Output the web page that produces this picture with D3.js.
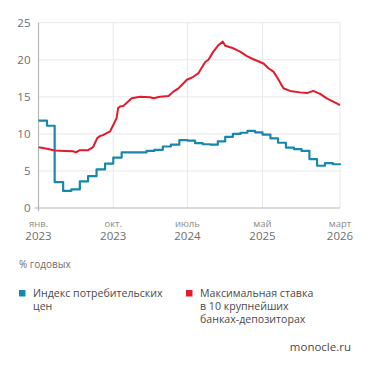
<!DOCTYPE html>
<html>
<head>
<meta charset="utf-8">
<script src="https://cdn.jsdelivr.net/npm/d3@7"></script>
<style>
  body { margin: 0; background: #fff; }
  svg { display: block; font-family: "Open Sans", sans-serif; }
</style>
</head>
<body>
<div id="chart"></div>
<script>
const tickDates = ["2023-01-01", "2023-10-01", "2024-07-01", "2025-05-01", "2026-03-01"];
const tickMonths = ["янв.", "окт.", "июль", "май", "март"];
const tickYears = ["2023", "2023", "2024", "2025", "2026"];
const yTicks = [0, 5, 10, 15, 20, 25];

// CPI, monthly, % y/y
const cpiDates = [
  "2023-01-01", "2023-02-01", "2023-03-01", "2023-04-01", "2023-05-01", "2023-06-01",
  "2023-07-01", "2023-08-01", "2023-09-01", "2023-10-01", "2023-11-01", "2023-12-01",
  "2024-01-01", "2024-02-01", "2024-03-01", "2024-04-01", "2024-05-01", "2024-06-01",
  "2024-07-01", "2024-08-01", "2024-09-01", "2024-10-01", "2024-11-01", "2024-12-01",
  "2025-01-01", "2025-02-01", "2025-03-01", "2025-04-01", "2025-05-01", "2025-06-01",
  "2025-07-01", "2025-08-01", "2025-09-01", "2025-10-01", "2025-11-01", "2025-12-01",
  "2026-01-01", "2026-02-01", "2026-03-01"
];
const cpiValues = [
  11.8, 11.1, 3.5, 2.3, 2.5, 3.6,
  4.3, 5.2, 6.0, 6.8, 7.5, 7.5,
  7.5, 7.7, 7.85, 8.3, 8.55, 9.15,
  9.1, 8.75, 8.6, 8.55, 9.0, 9.6,
  10.0, 10.15, 10.4, 10.2, 9.9, 9.4,
  8.8, 8.15, 7.95, 7.7, 6.6, 5.7,
  6.05, 5.9, 5.8
];

// max deposit rate in top-10 banks
const rateDates = [
  "2023-01-02", "2023-02-01", "2023-03-02", "2023-04-08", "2023-05-07", "2023-05-18",
  "2023-06-01", "2023-07-01", "2023-07-19", "2023-08-03", "2023-08-13", "2023-08-26",
  "2023-09-12", "2023-09-19", "2023-10-01", "2023-10-13", "2023-10-19", "2023-10-26",
  "2023-11-07", "2023-11-20", "2023-12-08", "2024-01-08", "2024-02-14", "2024-02-26",
  "2024-03-22", "2024-04-22", "2024-05-10", "2024-05-29", "2024-06-10", "2024-06-29",
  "2024-07-25", "2024-08-15", "2024-09-11", "2024-09-24", "2024-10-14", "2024-11-04",
  "2024-11-21", "2024-12-01", "2025-01-03", "2025-01-30", "2025-02-27", "2025-03-25",
  "2025-05-05", "2025-05-24", "2025-06-13", "2025-07-03", "2025-07-22", "2025-08-17",
  "2025-09-25", "2025-10-22", "2025-11-16", "2025-12-13", "2026-01-08", "2026-02-22",
  "2026-03-01"
];
const rateValues = [
  8.2, 8.0, 7.75, 7.7, 7.65, 7.5,
  7.8, 7.8, 8.2, 9.4, 9.7, 9.85,
  10.2, 10.3, 11.2, 12.1, 13.5, 13.7,
  13.76, 14.2, 14.8, 15.0, 14.94, 14.8,
  15.0, 15.1, 15.7, 16.15, 16.6, 17.3,
  17.7, 18.2, 19.7, 20.0, 21.1, 22.0,
  22.45, 21.9, 21.55, 21.1, 20.5, 20.07,
  19.5, 18.85, 18.4, 17.3, 16.15, 15.8,
  15.6, 15.5, 15.8, 15.4, 14.8, 14.0,
  13.9
];

const seriesNames = ["Индекс потребительских|цен", "Максимальная ставка|в 10 крупнейших|банках-депозиторах"];
const seriesColors = ["#1787b0", "#e11a2c"];

const parse = d3.timeParse("%Y-%m-%d");
const cpi = cpiDates.map((d, i) => ({ date: parse(d), value: cpiValues[i] }));
const rate = rateDates.map((d, i) => ({ date: parse(d), value: rateValues[i] }));

const W = 371, H = 371;
const margin = { top: 22.7, left: 38.5, right: 31, bottom: 163 };
const width = W - margin.left - margin.right,
      height = H - margin.top - margin.bottom;

const svg = d3.select("#chart")
  .append("svg")
  .attr("width", W)
  .attr("height", H);

const g = svg.append("g")
  .attr("transform", `translate(${margin.left},${margin.top})`);

// ticks on the source axis are spaced evenly, not by calendar
const x = d3.scaleTime()
  .domain(tickDates.map(parse))
  .range([0, 0.248, 0.494, 0.743, 1].map(f => f * width));

const y = d3.scaleLinear()
  .domain([0, 25])
  .range([height, 0]);

// grid
g.selectAll(".hgrid")
  .data(yTicks.filter(d => d > 0))
  .join("line")
  .attr("x1", 0).attr("x2", width)
  .attr("y1", d => y(d)).attr("y2", d => y(d))
  .attr("stroke", "#e8e8e8")
  .attr("stroke-width", 1);

g.selectAll(".vgrid")
  .data(tickDates.slice(1))
  .join("line")
  .attr("x1", d => x(parse(d))).attr("x2", d => x(parse(d)))
  .attr("y1", 0).attr("y2", height)
  .attr("stroke", "#e8e8e8")
  .attr("stroke-width", 1);

// axes lines
g.append("line")
  .attr("x1", 0).attr("x2", 0)
  .attr("y1", 0).attr("y2", height + 3)
  .attr("stroke", "#b5b5b5").attr("stroke-width", 1.2);

g.append("line")
  .attr("x1", -4).attr("x2", width)
  .attr("y1", height).attr("y2", height)
  .attr("stroke", "#b5b5b5").attr("stroke-width", 1.2);

// y labels
g.selectAll(".ylab")
  .data(yTicks)
  .join("text")
  .attr("x", -8)
  .attr("y", d => y(d))
  .attr("dy", "0.36em")
  .attr("text-anchor", "end")
  .attr("fill", "#6e6e6e")
  .style("font-size", "11.5px")
  .text(d => d);

// x labels
g.selectAll(".xmon")
  .data(tickDates)
  .join("text")
  .attr("x", d => x(parse(d)))
  .attr("y", 227 - margin.top)
  .attr("text-anchor", "middle")
  .attr("fill", "#8a8a8a")
  .style("font-size", "9.5px")
  .text((d, i) => tickMonths[i]);

g.selectAll(".xyear")
  .data(tickDates)
  .join("text")
  .attr("x", d => x(parse(d)))
  .attr("y", 240.5 - margin.top)
  .attr("text-anchor", "middle")
  .attr("fill", "#6e6e6e")
  .style("font-size", "11.5px")
  .text((d, i) => tickYears[i]);

// lines
g.append("path")
  .datum(cpi)
  .attr("fill", "none")
  .attr("stroke", seriesColors[0])
  .attr("stroke-width", 2.2)
  .attr("stroke-linejoin", "round")
  .attr("d", d3.line()
    .curve(d3.curveStepAfter)
    .x(d => x(d.date))
    .y(d => y(d.value)));

g.append("path")
  .datum(rate)
  .attr("fill", "none")
  .attr("stroke", seriesColors[1])
  .attr("stroke-width", 2)
  .attr("stroke-linejoin", "round")
  .attr("d", d3.line()
    .x(d => x(d.date))
    .y(d => y(d.value)));

// legend
svg.append("text")
  .attr("x", 19).attr("y", 268)
  .attr("fill", "#6e6e6e")
  .style("font-size", "10px")
  .text("% годовых");

const legendX = [19, 186];
const leg = svg.selectAll(".legend")
  .data(seriesNames)
  .join("g")
  .attr("transform", (d, i) => `translate(${legendX[i]},0)`);

leg.append("rect")
  .attr("x", 0).attr("y", 290)
  .attr("width", 6.5).attr("height", 6.5)
  .attr("fill", (d, i) => seriesColors[i]);

leg.each(function (d) {
  d3.select(this).selectAll("text")
    .data(d.split("|"))
    .join("text")
    .attr("x", 14)
    .attr("y", (t, j) => 297 + j * 12.8)
    .attr("fill", "#4a4a4a")
    .style("font-size", "10.6px")
    .text(t => t);
});

svg.append("text")
  .attr("x", 351).attr("y", 351)
  .attr("text-anchor", "end")
  .attr("fill", "#4a4a4a")
  .style("font-size", "11.5px")
  .text("monocle.ru");
</script>
</body>
</html>
